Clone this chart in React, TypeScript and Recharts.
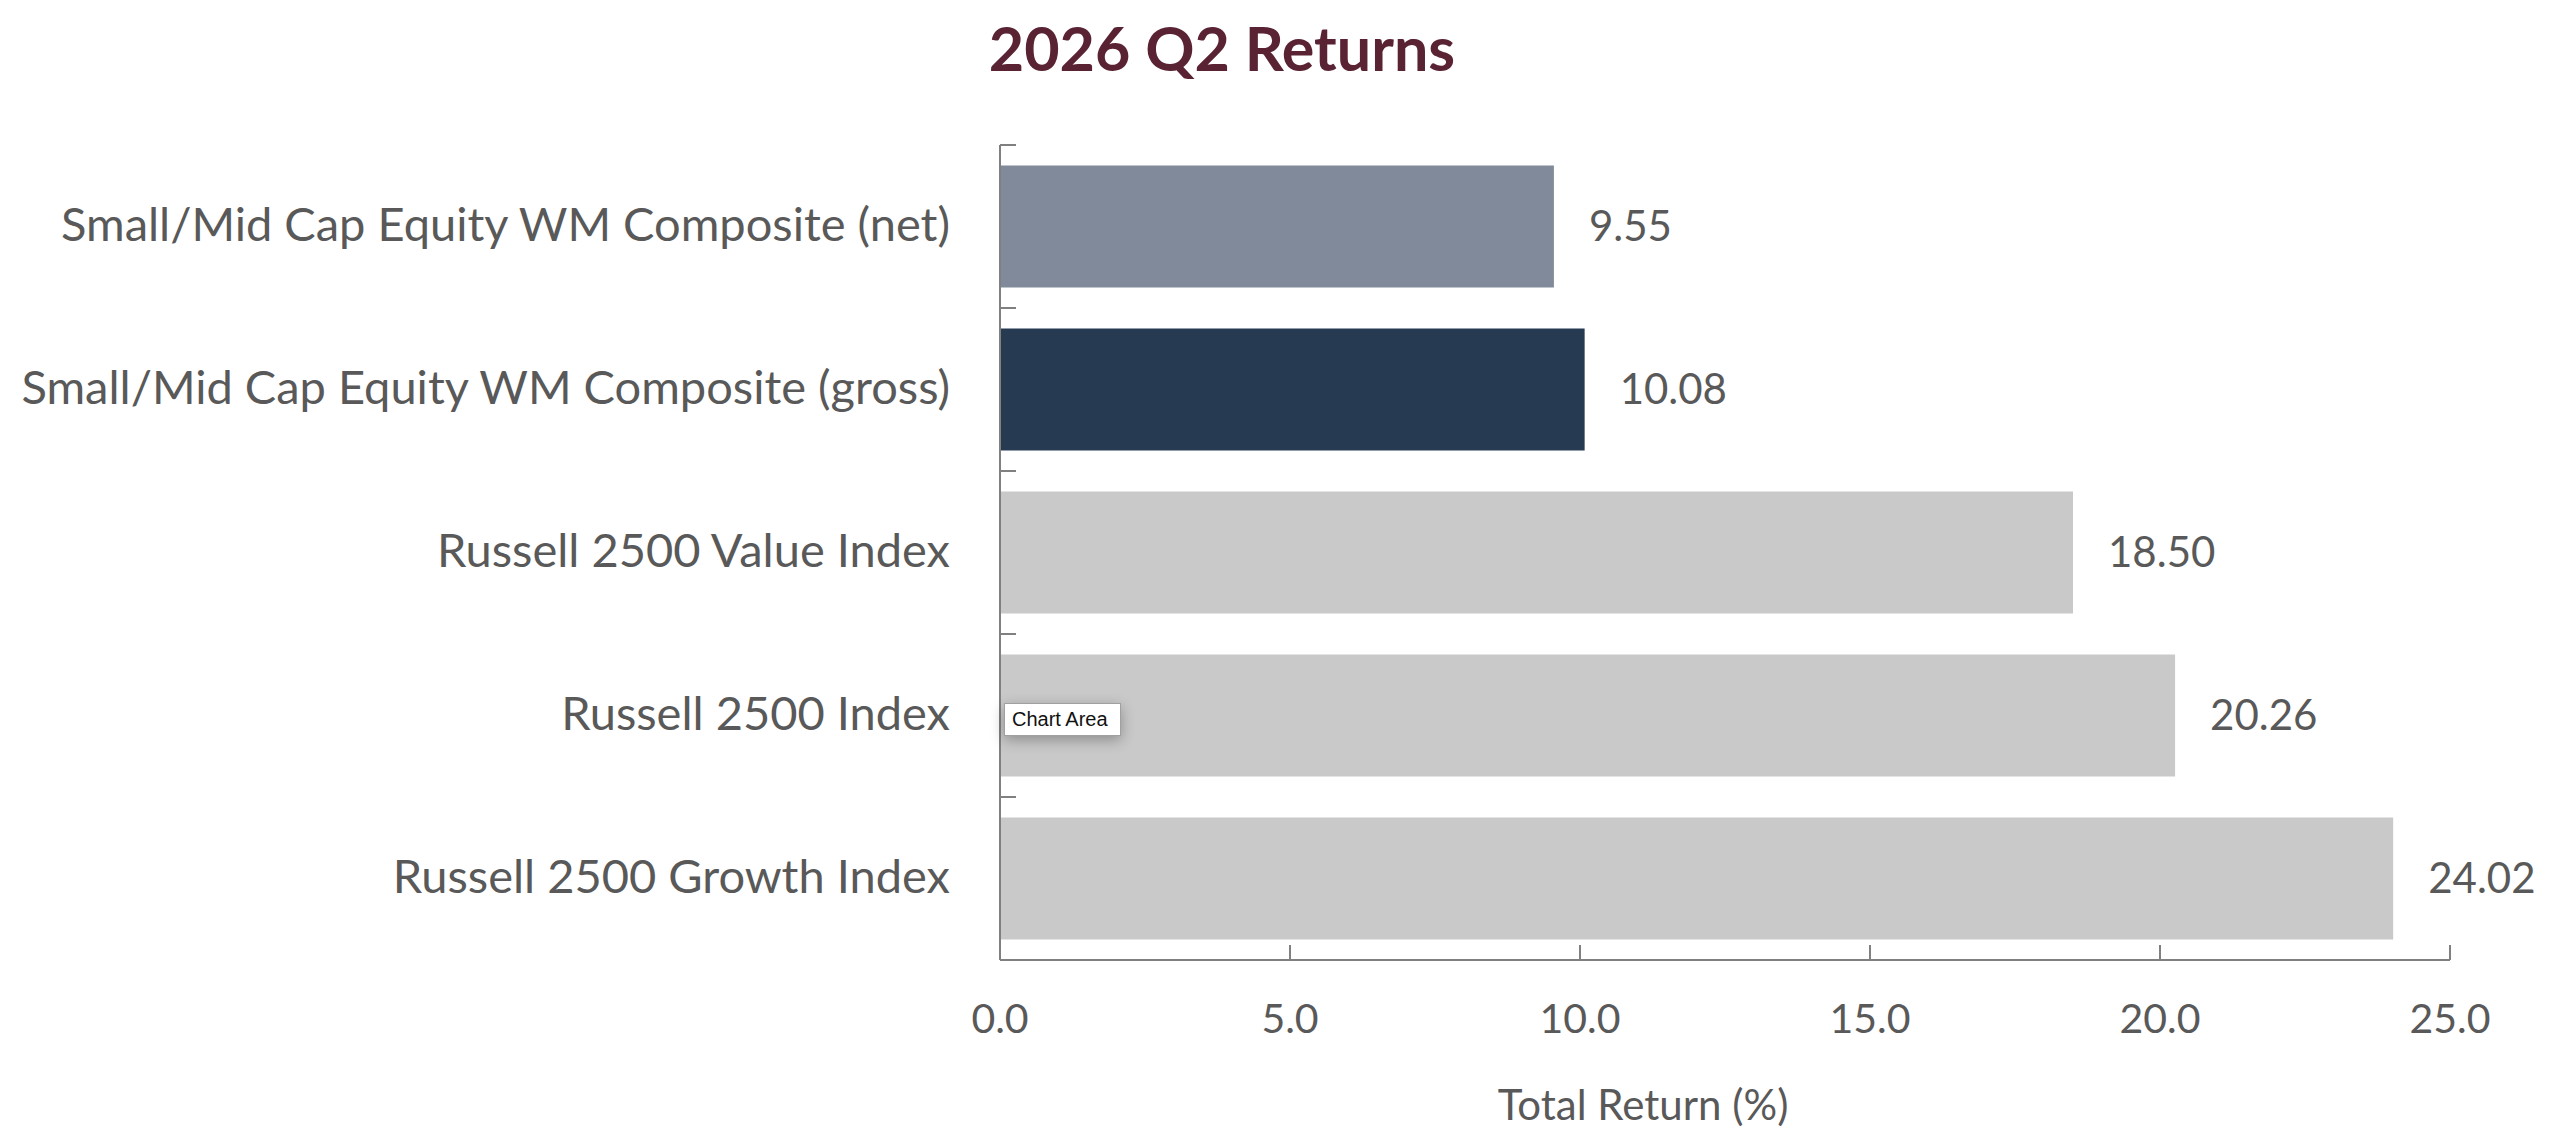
import { BarChart, Bar, XAxis, YAxis, Cell, LabelList, Label } from "recharts";

const categories = [
  "Small/Mid Cap Equity WM Composite (net)",
  "Small/Mid Cap Equity WM Composite (gross)",
  "Russell 2500 Value Index",
  "Russell 2500 Index",
  "Russell 2500 Growth Index",
];
const returns = [9.55, 10.08, 18.5, 20.26, 24.02];
const xTicks = [0, 5, 10, 15, 20, 25];

const barColors = ["#808a9b", "#263a52", "#c9c9c9", "#c9c9c9", "#c9c9c9"];

const data = categories.map((name, i) => ({ name, value: returns[i] }));

const W = 2544;
const H = 1128;
const MARGIN = { top: 137, right: 102, left: 0, bottom: 0 };
const Y_WIDTH = 992;
const X_HEIGHT = 176;
const PLOT_H = H - MARGIN.top - MARGIN.bottom - X_HEIGHT;
const BAND = PLOT_H / categories.length;
const AXIS = "#808080";
const TEXT = "#595959";
const FONT = "Lato, 'Open Sans', sans-serif";

function YTick({ x, y, payload }: any) {
  const ax = x + 50;
  const top = y - BAND / 2;
  return (
    <g>
      <line x1={ax} x2={ax + 16} y1={top} y2={top} stroke={AXIS} strokeWidth={2} />
      <text x={x} y={y - 4} textAnchor="end" dominantBaseline="central" fill={TEXT} fontSize={47} fontFamily={FONT}>
        {payload.value}
      </text>
    </g>
  );
}

function XTick({ x, y, payload }: any) {
  const ay = y - 57;
  return (
    <g>
      <line x1={x} x2={x} y1={ay} y2={ay - 15} stroke={AXIS} strokeWidth={2} />
      <text x={x} y={y} textAnchor="middle" dominantBaseline="central" fill={TEXT} fontSize={41} fontFamily={FONT}>
        {Number(payload.value).toFixed(1)}
      </text>
    </g>
  );
}

export default function App() {
  return (
    <div style={{ position: "relative", width: W, height: H, background: "#fff" }}>
      <BarChart width={W} height={H} data={data} layout="vertical" margin={MARGIN} barCategoryGap="12.5%">
        <XAxis
          type="number"
          domain={[0, 25]}
          ticks={xTicks}
          height={X_HEIGHT}
          tickLine={false}
          tickSize={0}
          tickMargin={57}
          tick={<XTick />}
          axisLine={{ stroke: AXIS, strokeWidth: 2 }}
        >
          <Label
            value="Total Return (%)"
            position="insideBottom"
            offset={16}
            dx={-82}
            fill={TEXT}
            fontSize={42}
            fontFamily={FONT}
          />
        </XAxis>
        <YAxis
          type="category"
          dataKey="name"
          width={Y_WIDTH}
          interval={0}
          tickLine={false}
          tickSize={0}
          tickMargin={50}
          tick={<YTick />}
          axisLine={{ stroke: AXIS, strokeWidth: 2 }}
        />
        <Bar dataKey="value" isAnimationActive={false}>
          {data.map((d, i) => (
            <Cell key={d.name} fill={barColors[i]} />
          ))}
          <LabelList
            dataKey="value"
            position="right"
            offset={35}
            formatter={(v: any) => Number(v).toFixed(2)}
            fill={TEXT}
            fontSize={42}
            fontFamily={FONT}
          />
        </Bar>
      </BarChart>
      <svg width={W} height={H} style={{ position: "absolute", left: 0, top: 0, pointerEvents: "none" }}>
        <text x={1214} y={63} textAnchor="middle" fill="#5a2333" fontSize={61} fontWeight={700} fontFamily={FONT}>
          2026 Q2 Returns
        </text>
      </svg>
      <div
        style={{
          position: "absolute",
          left: 996,
          top: 695,
          width: 117,
          height: 33,
          boxSizing: "border-box",
          background: "#fff",
          border: "1px solid #a0a0a0",
          boxShadow: "0 4px 14px rgba(0,0,0,0.3)",
          fontFamily: "'Liberation Sans', Arial, sans-serif",
          fontSize: 20,
          lineHeight: "31px",
          paddingLeft: 7,
          color: "#111",
        }}
      >
        Chart Area
      </div>
    </div>
  );
}
